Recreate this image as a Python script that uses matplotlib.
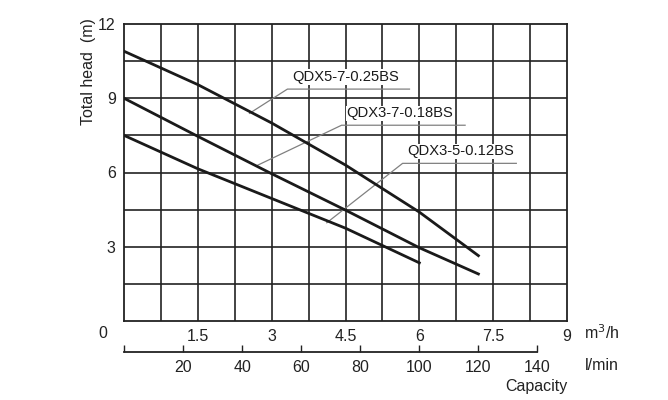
import numpy as np
import matplotlib
matplotlib.use('Agg')
import matplotlib.pyplot as plt

plt.rcParams['font.family'] = ['Liberation Sans', 'DejaVu Sans']

# pump curves: capacity (m3/h) vs total head (m)
q_025 = [0, 1.5, 3.0, 4.5, 6.0, 7.2]
h_025 = [10.9, 9.55, 8.0, 6.3, 4.4, 2.64]

q_018 = [0, 1.5, 3.0, 4.5, 6.0, 7.2]
h_018 = [9.0, 7.46, 5.95, 4.48, 2.96, 1.9]

q_012 = [0, 1.5, 3.0, 4.5, 6.0]
h_012 = [7.5, 6.15, 4.95, 3.75, 2.35]

names = ['QDX5-7-0.25BS', 'QDX3-7-0.18BS', 'QDX3-5-0.12BS']
# label anchor: text start, underline end, leader end on curve
lbl_x = [3.32, 4.42, 5.66]
lbl_y = [9.37, 7.91, 6.37]
lbl_end = [5.80, 6.93, 7.97]
lead_x = [2.55, 2.70, 4.12]
lead_y = [8.39, 6.28, 3.97]

x_labels = ['1.5', '3', '4.5', '6', '7.5', '9']
y_labels = ['3', '6', '9', '12']
lmin_ticks = [0, 20, 40, 60, 80, 100, 120, 140]

fig = plt.figure(figsize=(6.68, 4.0), dpi=100)
ax = fig.add_axes([124/668, 1-321/400, 443/668, 297/400])

for v in np.arange(0.75, 9, 0.75):
    ax.axvline(v, color='#222222', lw=1.2, zorder=1)
for h in np.arange(1.5, 12, 1.5):
    ax.axhline(h, color='#222222', lw=1.2, zorder=1)

for q, h in [(q_025, h_025), (q_018, h_018), (q_012, h_012)]:
    ax.plot(q, h, color='#1a1a1a', lw=2.0, zorder=3)

for i in range(3):
    ax.plot([lead_x[i], lbl_x[i], lbl_end[i]], [lead_y[i], lbl_y[i], lbl_y[i]],
            color='#808080', lw=0.9, zorder=2)
    ax.text(lbl_x[i] + 0.1, lbl_y[i] + 0.2, names[i], fontsize=10.6,
            color='#1a1a1a', va='bottom', ha='left', zorder=4,
            bbox=dict(facecolor='white', edgecolor='none', pad=0.5))

ax.set_xlim(0, 9)
ax.set_ylim(0, 12)
for s in ax.spines.values():
    s.set_linewidth(1.3)
    s.set_color('#222222')

ax.set_xticks([1.5, 3, 4.5, 6, 7.5, 9])
ax.set_xticklabels(x_labels)
ax.set_yticks([3, 6, 9, 12])
ax.set_yticklabels(y_labels)
ax.tick_params(axis='both', length=0, labelsize=11.5, colors='#222222')
ax.tick_params(axis='x', pad=6)
ax.tick_params(axis='y', pad=6)

sec = ax.secondary_xaxis(-0.1044, functions=(lambda q: q * 1000 / 60,
                                            lambda l: l * 60 / 1000))
sec.set_xticks(lmin_ticks)
sec.set_xticklabels([''] + [str(t) for t in lmin_ticks[1:]])
sec.tick_params(direction='in', length=5, width=1, labelsize=11.5, pad=6, colors='#222222')
sec.spines['bottom'].set_bounds(0, 140)
sec.spines['bottom'].set_linewidth(1.3)
sec.spines['bottom'].set_color('#222222')

fig.text(103/668, 1-334/400, '0', fontsize=11.5, ha='center', va='center', color='#222222')
fig.text(584/668, 1-333/400, 'm$^3$/h', fontsize=11.5, ha='left', va='center', color='#222222')
fig.text(585/668, 1-365/400, 'l/min', fontsize=11.5, ha='left', va='center', color='#222222')
fig.text(568/668, 1-387/400, 'Capacity', fontsize=11.5, ha='right', va='center', color='#222222')
fig.text(88/668, 1-72/400, 'Total head  (m)', fontsize=11.5, rotation=90,
         ha='center', va='center', color='#222222')

fig.savefig('out.png', dpi=100)
